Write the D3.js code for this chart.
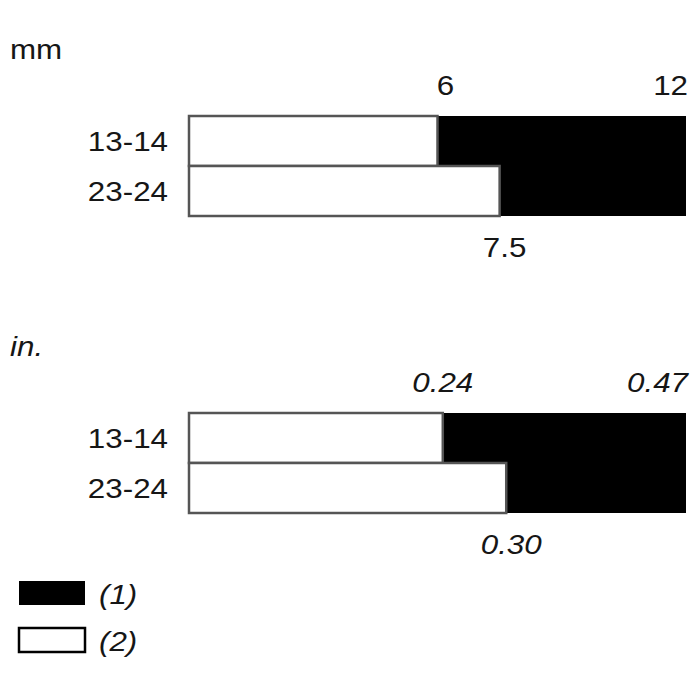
<!DOCTYPE html>
<html><head><meta charset="utf-8">
<script src="https://cdn.jsdelivr.net/npm/d3@7"></script>
<style>body{margin:0;background:#fff}</style>
</head><body>
<script>
// Data
const categories = ["13-14", "23-24"];
const mmSeries2 = [6, 7.5];      // white part (2)
const mmTotal = [12, 12];         // total length (1)+(2)
const inSeries2 = [0.24, 0.30];
const inTotal = [0.47, 0.47];
const mmTopLabels = ["6", "12"];
const mmBottomLabel = "7.5";
const inTopLabels = ["0.24", "0.47"];
const inBottomLabel = "0.30";
const legendLabels = ["(1)", "(2)"];

const W = 700, H = 700;
const SX = 1.1;
const svg = d3.select("body").append("svg").attr("width", W).attr("height", H)
  .style("font-family", "'Liberation Sans', Arial, sans-serif");

function label(g, x, y, txt, anchor, italic) {
  return g.append("text")
    .attr("transform", `translate(${x},${y}) scale(${SX},1)`)
    .attr("text-anchor", anchor).attr("font-size", 28.5)
    .attr("font-style", italic ? "italic" : "normal").attr("fill", "#161616").text(txt);
}

function panel(opts) {
  const {unit, italic, top, s2, total, topLabels, bottomLabel} = opts;
  const x = d3.scaleLinear().domain([0, total[0]]).range([189, 686]);
  const y = d3.scaleBand().domain(categories).range([top, top + 100]).padding(0);
  const g = svg.append("g");
  label(g, 10, top - 57, unit, "start", italic);
  // black (1) parts
  g.selectAll("rect.b").data(categories).join("rect")
    .attr("x", (d, i) => x(s2[i])).attr("y", d => y(d))
    .attr("width", (d, i) => x(total[i]) - x(s2[i])).attr("height", y.bandwidth())
    .attr("fill", "#000");
  // white (2) parts
  g.selectAll("rect.w").data(categories).join("rect")
    .attr("x", x(0)).attr("y", d => y(d))
    .attr("width", (d, i) => x(s2[i]) - x(0)).attr("height", y.bandwidth())
    .attr("fill", "#fff").attr("stroke", "#555").attr("stroke-width", 2.5);
  // category labels
  categories.forEach(c => label(g, 168, y(c) + y.bandwidth() / 2 + 10, c, "end", false));
  // value labels
  label(g, italic ? x(s2[0]) : x(s2[0]) + 8, top - 21, topLabels[0], "middle", italic);
  label(g, x(total[0]) + 2, top - 21, topLabels[1], "end", italic);
  label(g, x(s2[1]) + 5, top + 141, bottomLabel, "middle", italic);
}

panel({unit: "mm", italic: false, top: 116, s2: mmSeries2, total: mmTotal, topLabels: mmTopLabels, bottomLabel: mmBottomLabel});
panel({unit: "in.", italic: true, top: 413, s2: inSeries2, total: inTotal, topLabels: inTopLabels, bottomLabel: inBottomLabel});

// legend
const lg = svg.append("g");
const colors = ["#000", "#fff"];
lg.selectAll("rect").data(legendLabels).join("rect")
  .attr("x", 19).attr("y", (d, i) => 581 + i * 47).attr("width", 66).attr("height", 24)
  .attr("fill", (d, i) => colors[i]).attr("stroke", "#000").attr("stroke-width", (d, i) => i ? 2.5 : 0);
legendLabels.forEach((d, i) => label(lg, 99, 604 + i * 47, d, "start", true));
</script>
</body></html>
